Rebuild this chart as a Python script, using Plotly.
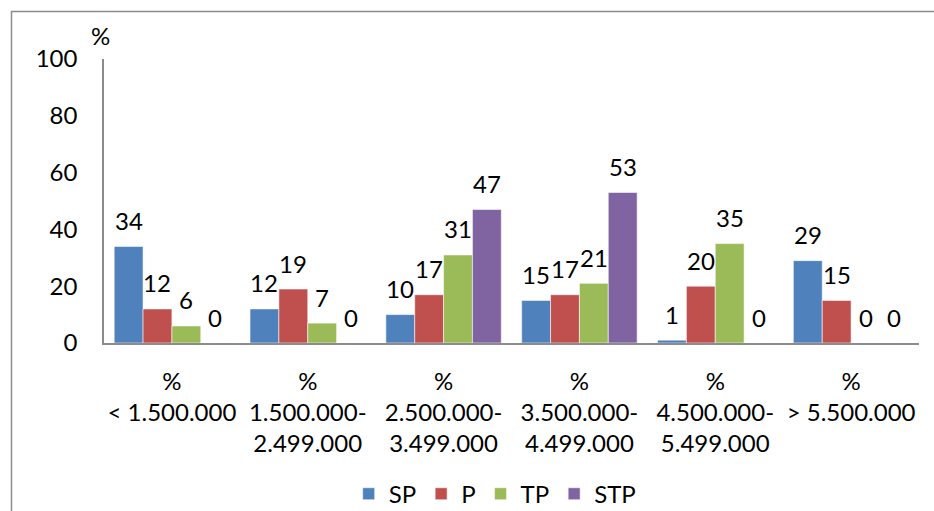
import plotly.graph_objects as go

categories = [
    "%<br>< 1.500.000",
    "%<br>1.500.000-<br>2.499.000",
    "%<br>2.500.000-<br>3.499.000",
    "%<br>3.500.000-<br>4.499.000",
    "%<br>4.500.000-<br>5.499.000",
    "%<br>> 5.500.000",
]
series_names = ["SP", "P", "TP", "STP"]
sp = [34, 12, 10, 15, 1, 29]
p = [12, 19, 17, 17, 20, 15]
tp = [6, 7, 31, 21, 35, 0]
stp = [0, 0, 47, 53, 0, 0]
y_ticks = [0, 20, 40, 60, 80, 100]

colors = ["#4F81BD", "#C0504D", "#9BBB59", "#8064A2"]
FONT = "Lato, 'Open Sans', sans-serif"
FS = 24
BARGAP = 0.15

series = [sp, p, tp, stp]
fig = go.Figure()
for name, vals, col in zip(series_names, series, colors):
    fig.add_trace(go.Bar(
        name=name, x=categories, y=vals,
        marker=dict(color=col, line=dict(color="rgba(255,255,255,0.55)", width=1)),
    ))

# value labels above each bar, placed at the bar's own category slot
annotations = []
n = len(series)
group_w = 1 - BARGAP
for j, vals in enumerate(series):
    offset = -group_w / 2 + (j + 0.5) * group_w / n
    for i, v in enumerate(vals):
        annotations.append(dict(
            x=i + offset, y=v, xref="x", yref="y", text=str(v),
            showarrow=False, yshift=26, yanchor="middle",
            font=dict(family=FONT, size=FS, color="#000"),
        ))

# axis unit label
annotations.append(dict(
    x=-0.004, y=1.081, xref="paper", yref="paper", text="%",
    showarrow=False, xanchor="center", yanchor="middle",
    font=dict(family=FONT, size=FS, color="#000"),
))

fig.update_layout(
    width=934, height=511,
    margin=dict(l=104, r=15, t=59, b=168),
    paper_bgcolor="white", plot_bgcolor="white",
    barmode="group", bargap=BARGAP, bargroupgap=0,
    font=dict(family=FONT, size=FS, color="#000"),
    showlegend=True,
    legend=dict(orientation="h", x=0.48, xanchor="center",
                yref="container", y=0.033, yanchor="middle",
                font=dict(family=FONT, size=FS), itemwidth=30, tracegroupgap=0),
    annotations=annotations,
    shapes=[dict(type="rect", xref="paper", yref="paper",
                 x0=-0.1135, x1=1.1, y0=-0.8, y1=1.167,
                 line=dict(color="#8C8C8C", width=1.5), layer="below")],
)
fig.update_xaxes(
    showline=True, linecolor="#8C8C8C", linewidth=1.5, ticks="",
    showgrid=False, tickangle=0, ticklabelstandoff=16, automargin=False,
    tickfont=dict(family=FONT, size=FS),
)
fig.update_yaxes(
    range=[0, 100], tickvals=y_ticks, showline=True, linecolor="#8C8C8C",
    linewidth=1.5, ticks="", showgrid=False, zeroline=False, automargin=False,
    ticklabelstandoff=20, tickfont=dict(family=FONT, size=FS),
)

fig.write_html("out.html")
